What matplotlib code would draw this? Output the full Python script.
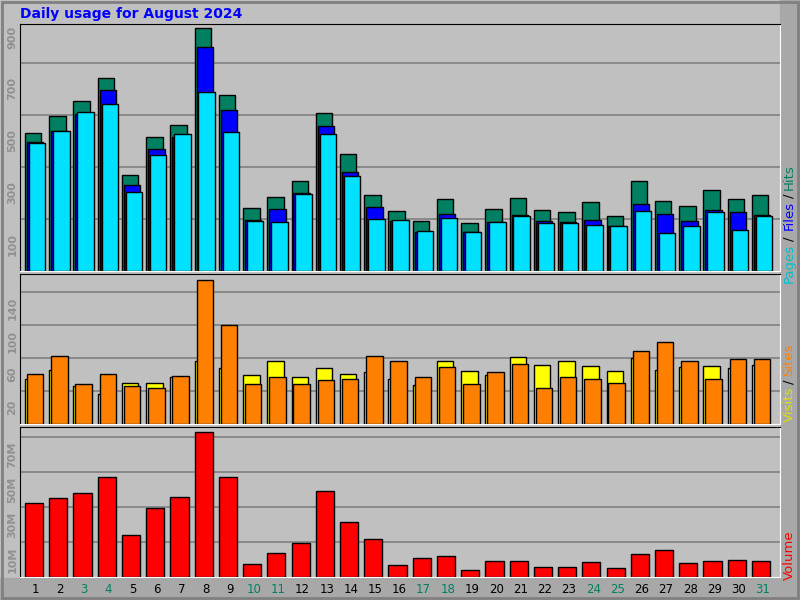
import matplotlib
matplotlib.use("Agg")
import matplotlib.pyplot as plt
from matplotlib.patches import Rectangle

days = list(range(1, 32))
weekend = [3, 4, 10, 11, 17, 18, 24, 25, 31]

hits = [531, 596, 654, 742, 369, 515, 562, 935, 677, 242, 285, 346, 608, 450, 292, 231,
        192, 277, 185, 238, 281, 235, 227, 265, 212, 346, 269, 250, 312, 277, 292]
files = [496, 538, 603, 696, 331, 469, 515, 862, 619, 196, 238, 300, 558, 381, 246, 192,
         150, 219, 150, 188, 215, 192, 188, 196, 173, 258, 219, 192, 235, 227, 215]
pages = [492, 538, 612, 642, 304, 446, 527, 688, 535, 192, 188, 296, 527, 365, 200, 196,
         154, 204, 150, 188, 212, 185, 185, 177, 173, 231, 146, 173, 227, 158, 212]
visits = [55, 66, 46, 36, 50, 50, 57, 76, 68, 60, 76, 57, 68, 61, 63, 55,
          47, 76, 64, 59, 81, 71, 76, 70, 64, 80, 66, 69, 70, 68, 71]
sites = [61, 82, 49, 61, 46, 44, 58, 175, 120, 49, 57, 49, 53, 55, 82, 76,
         57, 69, 48, 63, 73, 44, 57, 54, 50, 88, 100, 76, 54, 79, 79]
volume = [42.5, 44.8, 48.2, 57.3, 24.2, 39.6, 45.9, 83.0, 57.3, 7.6, 13.9, 19.6, 49.3, 31.6, 21.9, 7.0,
          11.0, 12.2, 4.2, 9.3, 9.3, 5.9, 5.9, 8.8, 5.3, 13.3, 15.6, 8.2, 9.3, 9.9, 9.3]

BG = "#c0c0c0"
W, H = 800, 600
fig = plt.figure(figsize=(8, 6), dpi=100, facecolor=BG)
# darker right / bottom strips
fig.patches.append(Rectangle((780 / W, 0), 20 / W, 1, transform=fig.transFigure, color="#a8a8a8", zorder=-1))
fig.patches.append(Rectangle((0, 0), 1, 22 / H, transform=fig.transFigure, color="#a8a8a8", zorder=-1))
fig.patches.append(Rectangle((2 / W, 2 / H), 796 / W, 596 / H, transform=fig.transFigure,
                             fill=False, ec="#808080", lw=2))


def mkax(top, bottom):
    return fig.add_axes([20 / W, 1 - bottom / H, 760 / W, (bottom - top) / H])


x0, x1 = 0.394, 31.76
ec = dict(edgecolor="black", linewidth=1)

ax1 = mkax(24, 271)
ax2 = mkax(274, 424)
ax3 = mkax(427, 577)

ax1.bar([d - 0.4 for d in days], hits, width=0.68, align="edge", color="#008060", **ec)
ax1.bar([d - 0.32 for d in days], files, width=0.68, align="edge", color="#0000ff", **ec)
ax1.bar([d - 0.24 for d in days], pages, width=0.68, align="edge", color="#00e0ff", **ec)
ax1.set_ylim(0, 950)
ax1.set_yticks([100, 300, 500, 700, 900])
ax1.set_yticks(range(100, 1000, 100), minor=True)

ax2.bar([d - 0.4 for d in days], visits, width=0.68, align="edge", color="#ffff00", **ec)
ax2.bar([d - 0.32 for d in days], sites, width=0.68, align="edge", color="#ff8000", **ec)
ax2.set_ylim(0, 182)
ax2.set_yticks([20, 60, 100, 140])
ax2.set_yticks(range(20, 180, 20), minor=True)

ax3.bar([d - 0.4 for d in days], volume, width=0.75, align="edge", color="#ff0000", **ec)
ax3.set_ylim(0, 85.6)
ax3.set_yticks([10, 30, 50, 70])
ax3.set_yticklabels(["10M", "30M", "50M", "70M"])
ax3.set_yticks(range(10, 90, 10), minor=True)

for ax in (ax1, ax2, ax3):
    ax.set_facecolor(BG)
    ax.set_xlim(x0, x1)
    ax.grid(True, which="minor", axis="y", color="#808080", lw=1.2)
    ax.set_axisbelow(True)
    ax.tick_params(axis="y", which="both", length=0, labelsize=8, labelcolor="#909090", pad=2)
    for lab in ax.get_yticklabels():
        lab.set_rotation(90)
        lab.set_va("center")
        lab.set_fontweight("bold")
    ax.set_xticks([])
    for s in ax.spines.values():
        s.set_color("black")
    ax.spines["bottom"].set_color("white")
    ax.spines["right"].set_color("white")

ax3.set_xticks([d + 0.05 for d in days])
ax3.set_xticklabels([str(d) for d in days], fontsize=8.5)
ax3.tick_params(axis="x", length=0, pad=4)
for d, lab in zip(days, ax3.get_xticklabels()):
    lab.set_color("#008060" if d in weekend else "black")

fig.text(20 / W, 1 - 14 / H, "Daily usage for August 2024", color="#0000ff",
         fontsize=10, fontweight="bold", va="center")


def side_label(parts, ymid):
    # stacked rotated words on the right margin, bottom to top
    total = sum(len(t) for t, _ in parts)
    y = ymid - total * 3.6
    for t, c in parts:
        fig.text(789 / W, 1 - y / H, t, color=c, rotation=90, fontsize=9.5,
                 ha="center", va="top")
        y += len(t) * 7.2


side_label([("Pages", "#00c0d0"), ("/", "#000000"), ("Files", "#0000ff"),
            ("/", "#000000"), ("Hits", "#008060")][::-1], 222)
side_label([("Visits", "#e0e000"), ("/", "#000000"), ("Sites", "#ff8000")][::-1], 387)
side_label([("Volume", "#ff0000")], 552)

fig.savefig("out.png", dpi=100, facecolor=BG)
